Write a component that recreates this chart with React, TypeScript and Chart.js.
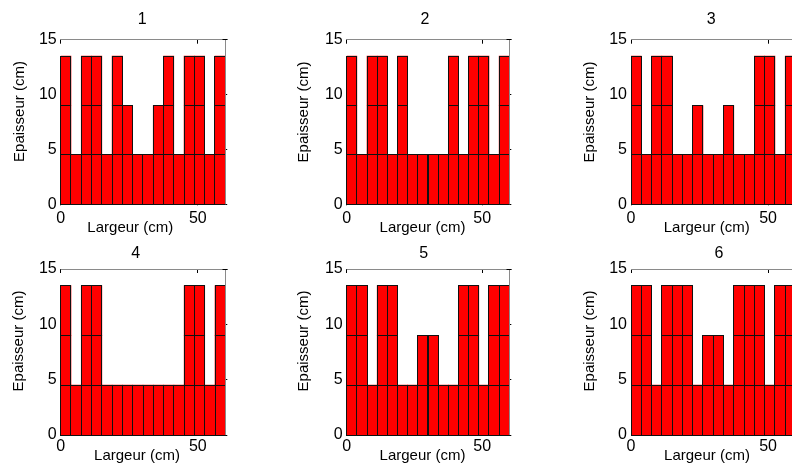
import React, { useEffect, useRef } from "react";
import { Chart, registerables } from "chart.js";

Chart.register(...registerables);

// ---------- data ----------
const columnWidth = 3.75; // cm, width of one block
const layerThickness = 4.5; // cm, thickness of one layer
const xMax = 60;
const yMax = 15;
const xTicks = [0, 50];
const yTicks = [0, 5, 10, 15];
const xLabel = "Largeur (cm)";
const yLabel = "Epaisseur (cm)";
const titles = ["1", "2", "3", "4", "5", "6"];

// number of stacked layers in each of the 16 columns
const couches1 = [3, 1, 3, 3, 1, 3, 2, 1, 1, 2, 3, 1, 3, 3, 1, 3];
const couches2 = [3, 1, 3, 3, 1, 3, 1, 1, 1, 1, 3, 1, 3, 3, 1, 3];
const couches3 = [3, 1, 3, 3, 1, 1, 2, 1, 1, 2, 1, 1, 3, 3, 1, 3];
const couches4 = [3, 1, 3, 3, 1, 1, 1, 1, 1, 1, 1, 1, 3, 3, 1, 3];
const couches5 = [3, 3, 1, 3, 3, 1, 1, 2, 2, 1, 1, 3, 3, 1, 3, 3];
const couches6 = [3, 3, 1, 3, 3, 3, 1, 2, 2, 1, 3, 3, 3, 1, 3, 3];

const allCouches = [couches1, couches2, couches3, couches4, couches5, couches6];

// ---------- layout (page coordinates) ----------
const FONT = '"Liberation Sans", Arial, Helvetica, sans-serif';
const Y_AXIS_W = 45;
const X_AXIS_H = 20;

type Layout = {
  cell: [number, number, number, number];
  area: [number, number, number, number];
  title: [number, number];
  xl: [number, number];
  yl: [number, number];
  tickPad: number;
};

const layouts: Layout[] = [
  { cell: [0, 0, 264, 245], area: [60.7, 39.7, 225.2, 204.3], title: [142.3, 19.5], xl: [130.3, 227.5], yl: [20, 111.5], tickPad: 5 },
  { cell: [264, 0, 264, 245], area: [346.7, 39.7, 509.3, 204.3], title: [425, 19.5], xl: [422.5, 227.5], yl: [303.5, 112], tickPad: 5 },
  { cell: [528, 0, 280, 245], area: [631, 39.7, 795.5, 204.3], title: [711.3, 19.5], xl: [706.7, 227.5], yl: [589.5, 112], tickPad: 5 },
  { cell: [0, 232, 264, 233], area: [60.7, 269, 225.3, 435], title: [135.8, 253.7], xl: [137, 455.5], yl: [19, 341], tickPad: 2 },
  { cell: [264, 232, 264, 233], area: [346.7, 269, 509.3, 435], title: [423.8, 253.5], xl: [422.5, 455.5], yl: [304, 341], tickPad: 2 },
  { cell: [528, 232, 280, 233], area: [631, 269, 795.5, 435], title: [719, 253.5], xl: [707, 455.5], yl: [589.5, 341], tickPad: 2 },
];

function snap(v: number) {
  return Math.floor(v) + 0.5;
}

function Panel({ counts, title, layout }: { counts: number[]; title: string; layout: Layout }) {
  const ref = useRef<HTMLCanvasElement | null>(null);
  const [cx, cy, cw, ch] = layout.cell;

  useEffect(() => {
    const [l, t, r, b] = layout.area;
    const datasets = [0, 1, 2].map((k) => ({
      label: "couche " + (k + 1),
      data: counts.map((n, i) => ({ x: (i + 0.5) * columnWidth, y: n > k ? layerThickness : null })),
      backgroundColor: "#ff0000",
      borderWidth: 0,
      categoryPercentage: 1,
      barPercentage: 1,
    }));

    const line = (ctx: CanvasRenderingContext2D, x0: number, y0: number, x1: number, y1: number) => {
      ctx.beginPath();
      ctx.moveTo(x0, y0);
      ctx.lineTo(x1, y1);
      ctx.stroke();
    };

    const decor = {
      id: "decor",
      beforeDatasetsDraw(chart: any) {
        const ctx = chart.ctx as CanvasRenderingContext2D;
        const { left, right, top, bottom } = chart.chartArea;
        const xs = chart.scales.x;
        const ys = chart.scales.y;
        ctx.save();
        ctx.strokeStyle = "#000";
        ctx.lineWidth = 1;
        for (const v of yTicks) {
          const py = snap(ys.getPixelForValue(v));
          line(ctx, left, py, left + 4, py);
          line(ctx, right - 4, py, right + 2, py);
        }
        for (const v of xTicks) {
          const px = snap(xs.getPixelForValue(v));
          line(ctx, px, bottom + 1, px, bottom - 4);
          line(ctx, px, top, px, top + 4);
        }
        ctx.restore();
      },
      afterDatasetsDraw(chart: any) {
        const ctx = chart.ctx as CanvasRenderingContext2D;
        const { left, right, top, bottom } = chart.chartArea;
        ctx.save();
        ctx.strokeStyle = "#111";
        ctx.lineWidth = 1;
        chart.data.datasets.forEach((ds: any, di: number) => {
          const meta = chart.getDatasetMeta(di);
          meta.data.forEach((el: any, i: number) => {
            if (ds.data[i].y == null) return;
            const x0 = snap(el.x - el.width / 2);
            const x1 = snap(el.x + el.width / 2);
            const y0 = snap(el.y);
            const y1 = snap(el.base);
            ctx.strokeRect(x0, y0, x1 - x0, y1 - y0);
          });
        });
        // axes box (top and right)
        ctx.strokeStyle = "#8a8a8a";
        const ty = snap(top);
        const rx = snap(right);
        line(ctx, left, ty, right, ty);
        line(ctx, rx, top, rx, bottom);
        ctx.strokeStyle = "#000";
        line(ctx, rx - 3, ty, rx + 2, ty);
        ctx.restore();
      },
      afterDraw(chart: any) {
        const ctx = chart.ctx as CanvasRenderingContext2D;
        ctx.save();
        ctx.fillStyle = "#000";
        ctx.textAlign = "center";
        ctx.textBaseline = "middle";
        ctx.font = `16px ${FONT}`;
        ctx.fillText(title, layout.title[0] - cx, layout.title[1] - cy);
        ctx.font = `15px ${FONT}`;
        ctx.fillText(xLabel, layout.xl[0] - cx, layout.xl[1] - cy);
        ctx.translate(layout.yl[0] - cx, layout.yl[1] - cy);
        ctx.rotate(-Math.PI / 2);
        ctx.fillText(yLabel, 0, 0);
        ctx.restore();
      },
    };

    const chart = new Chart(ref.current as HTMLCanvasElement, {
      type: "bar",
      data: { datasets: datasets as any },
      options: {
        animation: false,
        responsive: false,
        devicePixelRatio: 1,
        layout: {
          padding: {
            left: l - cx - Y_AXIS_W,
            top: t - cy,
            right: cx + cw - r,
            bottom: cy + ch - b - X_AXIS_H,
          },
        },
        plugins: {
          legend: { display: false },
          tooltip: { enabled: false },
          title: { display: false },
        },
        scales: {
          x: {
            type: "linear",
            min: 0,
            max: xMax,
            stacked: true,
            offset: false,
            grid: { display: false, drawTicks: false },
            border: { display: false },
            afterBuildTicks: (s: any) => {
              s.ticks = xTicks.map((v) => ({ value: v }));
            },
            afterFit: (s: any) => {
              s.height = X_AXIS_H;
            },
            ticks: {
              color: "#000",
              font: { family: FONT, size: 16 },
              padding: layout.tickPad,
              maxRotation: 0,
              autoSkip: false,
            },
          },
          y: {
            type: "linear",
            min: 0,
            max: yMax,
            stacked: true,
            grid: { display: false, drawTicks: false },
            border: { display: false },
            afterBuildTicks: (s: any) => {
              s.ticks = yTicks.map((v) => ({ value: v }));
            },
            afterFit: (s: any) => {
              s.width = Y_AXIS_W;
            },
            ticks: {
              color: "#000",
              font: { family: FONT, size: 16 },
              padding: 4,
              autoSkip: false,
            },
          },
        } as any,
      },
      plugins: [decor as any],
    });
    return () => chart.destroy();
  }, []);

  return (
    <canvas
      ref={ref}
      width={cw}
      height={ch}
      style={{ position: "absolute", left: cx, top: cy, width: cw, height: ch }}
    />
  );
}

export default function App() {
  return (
    <div
      style={{
        position: "fixed",
        left: 0,
        top: 0,
        width: 792,
        height: 465,
        overflow: "hidden",
        background: "#ffffff",
      }}
    >
      {allCouches.map((c, i) => (
        <Panel key={i} counts={c} title={titles[i]} layout={layouts[i]} />
      ))}
    </div>
  );
}
